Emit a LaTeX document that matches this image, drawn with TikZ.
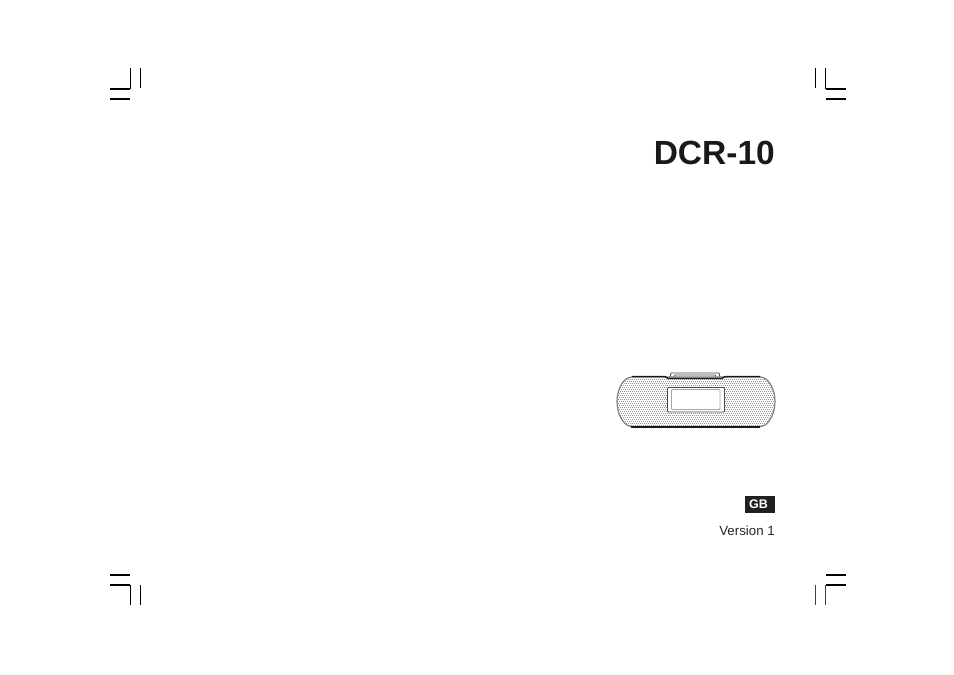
\documentclass[tikz,border=0pt]{standalone}
\usepackage{fontspec}
\setmainfont{Liberation Sans}
\tikzset{
  cropthick/.style={line width=2pt,black},
  cropthin/.style={line width=1pt,black},
  devline/.style={line width=0.9pt,black!70},
  devthick/.style={line width=1.3pt,black!90},
}
\begin{document}
\begin{tikzpicture}[x=1pt,y=-1pt]
\useasboundingbox[fill=white] (0,0) rectangle (954,675);
% crop marks
\draw[cropthick] (110,89) -- (130,89) (110,99) -- (130,99);
\draw[cropthin] (130.5,68) -- (130.5,89) (140.5,68) -- (140.5,88);
\draw[cropthick] (826,89) -- (846,89) (826,99) -- (846,99);
\draw[cropthin] (815.5,68) -- (815.5,88) (825.5,68) -- (825.5,89);
\draw[cropthick] (110,575) -- (130,575) (110,585) -- (130,585);
\draw[cropthin] (130.5,585) -- (130.5,605) (140.5,585) -- (140.5,605);
\draw[cropthick] (826,575) -- (846,575) (826,585) -- (846,585);
\draw[line width=1pt,black!75] (815.5,585) -- (815.5,605) (825.5,585) -- (825.5,605);
% title
\node[anchor=base east,inner sep=0pt,font=\fontsize{33.5}{36}\selectfont\bfseries,text=black!90] (title) at (775,164.5) {DCR-10};
% device: dock
\draw[devline] (670,377) -- (671,373) -- (719,373) -- (720,377);
\draw[devline] (674,377) -- (675,375) -- (715,375) -- (716,377);
% device: dotted body
\begin{scope}
\clip (632,377) -- (760,377) .. controls (769,377) and (775,390) .. (775,401.5) .. controls (775,413) and (769,426.5) .. (760,426.5) -- (632,426.5) .. controls (623,426.5) and (617,413) .. (617,401.5) .. controls (617,390) and (623,377) .. (632,377) -- cycle;
\foreach \i in {0,...,79}{
  \foreach \j in {0,...,25}{
    \fill[black!50] ({617.5+2*\i+mod(\j,2)},{377.5+2*\j}) circle[radius=0.5pt];
  }
}
\end{scope}
\draw[line width=1.2pt,black!50] (632,377) -- (760,377) .. controls (769,377) and (775,390) .. (775,401.5) .. controls (775,413) and (769,426.5) .. (760,426.5) -- (632,426.5) .. controls (623,426.5) and (617,413) .. (617,401.5) .. controls (617,390) and (623,377) .. (632,377) -- cycle;
\draw[devthick] (632,376.5) -- (665,376.5) -- (668,378.5) -- (722,378.5) -- (725,376.5) -- (760,376.5);
\draw[devthick] (631,427) -- (760,427);
% device: display
\draw[devline,fill=white,rounded corners=1pt] (667.5,387.5) rectangle (724.5,412);
\draw[line width=0.9pt,black!35,rounded corners=1pt] (671.5,389.5) rectangle (720,409.5);
% language tag
\node[anchor=center,fill=black!88,text=white,minimum width=30pt,minimum height=17pt,inner sep=0pt,font=\fontsize{12.5}{14}\selectfont\bfseries] (gb) at (760,504.5) {GB\kern3pt\null};
% version
\node[anchor=base east,inner sep=0pt,font=\fontsize{13.3}{15}\selectfont,text=black!85] (version) at (775,535) {Version 1};
\end{tikzpicture}
\end{document}
